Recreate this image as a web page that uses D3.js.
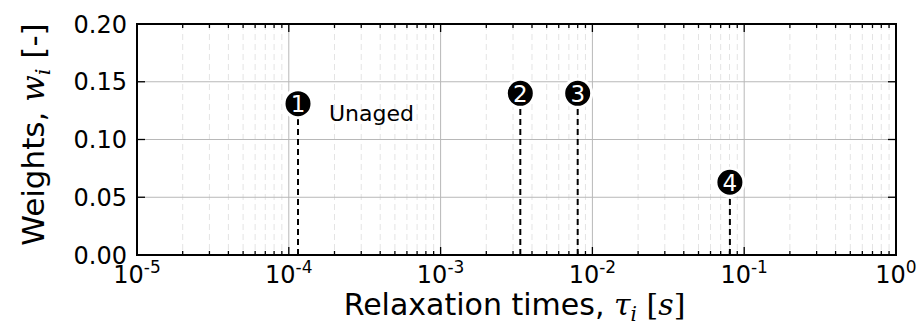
<!DOCTYPE html>
<html><head><meta charset="utf-8">
<script src="https://cdn.jsdelivr.net/npm/d3@7"></script>
<style>
html,body{margin:0;padding:0;background:#fff;}
svg{display:block;font-family:"DejaVu Sans",sans-serif;}
</style></head>
<body><svg id="c" width="917" height="331"></svg>
<script>
const taus = [1.15e-4, 3.35e-3, 8.0e-3, 8.05e-2];
const weights = [0.131, 0.140, 0.140, 0.063];
const markerLabels = ["1", "2", "3", "4"];
const annotationText = "Unaged";
const yTicks = [0, 0.05, 0.10, 0.15, 0.20];
const xTickExps = [-5, -4, -3, -2, -1, 0];

const svg = d3.select("#c");
const L = 137, R = 896, T = 24, B = 255;
const x = d3.scaleLog().domain([1e-5, 1]).range([L, R]);
const y = d3.scaleLinear().domain([0, 0.2]).range([B, T]);

const minors = [];
for (let e = -5; e < 0; e++) for (let m = 2; m <= 9; m++) minors.push(m * Math.pow(10, e));
const majors = xTickExps.map(e => Math.pow(10, e));

const g = svg.append("g");
g.selectAll(".mg").data(minors).enter().append("line")
  .attr("x1", d => x(d)).attr("x2", d => x(d)).attr("y1", T).attr("y2", B)
  .attr("stroke", "#e4e4e4").attr("stroke-width", 1).attr("stroke-dasharray", "6,4");
g.selectAll(".Mg").data(majors).enter().append("line")
  .attr("x1", d => x(d)).attr("x2", d => x(d)).attr("y1", T).attr("y2", B)
  .attr("stroke", "#b8b8b8").attr("stroke-width", 1);
g.selectAll(".hg").data(yTicks).enter().append("line")
  .attr("x1", L).attr("x2", R).attr("y1", d => y(d)).attr("y2", d => y(d))
  .attr("stroke", "#b8b8b8").attr("stroke-width", 1);

function xt(vals, len) {
  g.selectAll(null).data(vals).enter().append("line")
    .attr("x1", d => x(d)).attr("x2", d => x(d)).attr("y1", B).attr("y2", B - len)
    .attr("stroke", "#000").attr("stroke-width", 1.3);
  g.selectAll(null).data(vals).enter().append("line")
    .attr("x1", d => x(d)).attr("x2", d => x(d)).attr("y1", T).attr("y2", T + len)
    .attr("stroke", "#000").attr("stroke-width", 1.3);
}
xt(minors, 4); xt(majors, 8);
g.selectAll(null).data(yTicks).enter().append("line")
  .attr("x1", L).attr("x2", L + 8).attr("y1", d => y(d)).attr("y2", d => y(d))
  .attr("stroke", "#000").attr("stroke-width", 1.3);
g.selectAll(null).data(yTicks).enter().append("line")
  .attr("x1", R).attr("x2", R - 8).attr("y1", d => y(d)).attr("y2", d => y(d))
  .attr("stroke", "#000").attr("stroke-width", 1.3);

g.selectAll(".stem").data(taus).enter().append("line")
  .attr("x1", d => x(d)).attr("x2", d => x(d))
  .attr("y1", B).attr("y2", (d, i) => y(weights[i]))
  .attr("stroke", "#000").attr("stroke-width", 2).attr("stroke-dasharray", "6,4");

g.append("rect").attr("x", L).attr("y", T).attr("width", R - L).attr("height", B - T)
  .attr("fill", "none").attr("stroke", "#000").attr("stroke-width", 2);

const mk = g.selectAll(".mk").data(taus).enter().append("g")
  .attr("transform", (d, i) => `translate(${x(d)},${y(weights[i])})`);
mk.append("circle").attr("r", 14).attr("fill", "#000").attr("stroke", "#fff").attr("stroke-width", 3);
mk.append("text").text((d, i) => markerLabels[i]).attr("text-anchor", "middle")
  .attr("dy", "0.37em").attr("fill", "#fff").attr("font-size", 23);

g.append("text").attr("x", x(taus[0]) + 31).attr("y", y(weights[0]) + 17)
  .attr("font-size", 22).attr("fill", "#000").text(annotationText);

g.selectAll(".yl").data(yTicks).enter().append("text")
  .attr("x", L - 10).attr("y", d => y(d)).attr("dy", "0.36em")
  .attr("text-anchor", "end").attr("font-size", 24).text(d => d.toFixed(2));

const xl = g.selectAll(".xl").data(xTickExps).enter().append("text")
  .attr("x", d => x(Math.pow(10, d))).attr("y", 283)
  .attr("text-anchor", "middle").attr("font-size", 24);
xl.append("tspan").text("10");
xl.append("tspan").attr("dy", -10).attr("font-size", 17).text(d => (d === 0 ? "0" : "-" + Math.abs(d)));

const xlab = svg.append("text").attr("x", (L + R) / 2 - 2).attr("y", 315)
  .attr("text-anchor", "middle").attr("font-size", 30);
xlab.append("tspan").text("Relaxation times, ");
xlab.append("tspan").attr("font-family", "DejaVu Serif").attr("font-style", "italic").text("τ");
xlab.append("tspan").attr("font-family", "DejaVu Serif").attr("font-style", "italic").attr("font-size", 20).attr("dy", 6).text("i");
xlab.append("tspan").attr("dy", -6).attr("font-family", "DejaVu Serif").text(" [");
xlab.append("tspan").attr("font-family", "DejaVu Serif").attr("font-style", "italic").text("s");
xlab.append("tspan").attr("font-family", "DejaVu Serif").text("]");

const ylab = svg.append("text").attr("transform", `translate(44,${(T + B) / 2 - 5}) rotate(-90)`)
  .attr("text-anchor", "middle").attr("font-size", 31);
ylab.append("tspan").text("Weights, ");
ylab.append("tspan").attr("font-family", "DejaVu Serif").attr("font-style", "italic").text("w");
ylab.append("tspan").attr("font-family", "DejaVu Serif").attr("font-style", "italic").attr("font-size", 21).attr("dy", 6).text("i");
ylab.append("tspan").attr("dy", -6).text(" [-]");
</script></body></html>
